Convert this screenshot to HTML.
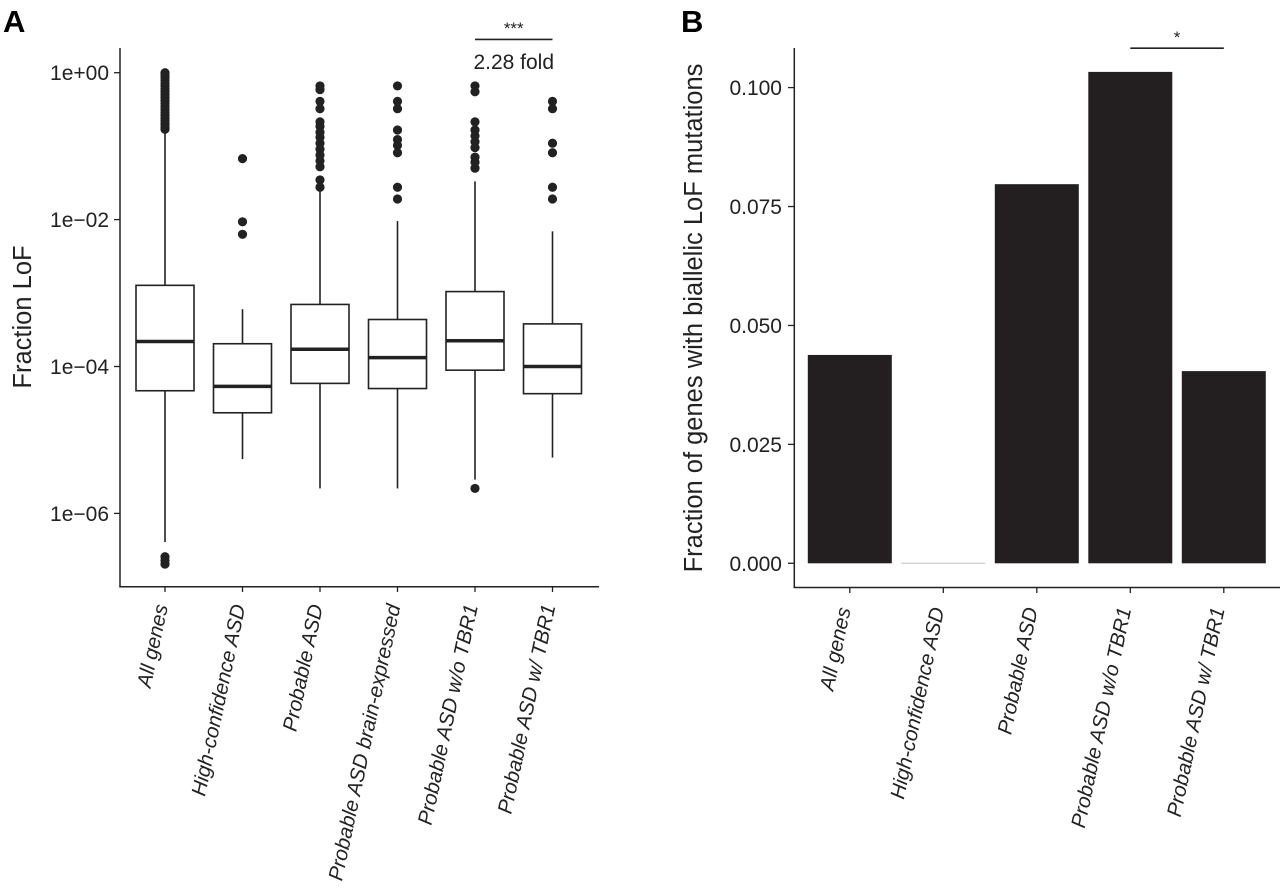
<!DOCTYPE html>
<html><head><meta charset="utf-8"><style>
html,body{margin:0;padding:0;background:#fff;}
svg{display:block;font-family:"Liberation Sans",Arial,sans-serif;}
</style></head><body>
<svg id="fig" width="1280" height="894" viewBox="0 0 1280 894" xmlns="http://www.w3.org/2000/svg">
<g id="pa"></g>
<g id="pb"></g>
</svg>
<script>
// ---------- Panel A data (log10 values) ----------
const catsA = ["All genes","High-confidence ASD","Probable ASD","Probable ASD brain-expressed","Probable ASD w/o TBR1","Probable ASD w/ TBR1"];
const q1A = [-4.33,-4.63,-4.23,-4.30,-4.05,-4.37];
const medA = [-3.66,-4.27,-3.765,-3.88,-3.65,-4.00];
const q3A = [-2.895,-3.69,-3.155,-3.36,-2.98,-3.42];
const whiskLoA = [-6.39,-5.26,-5.66,-5.66,-5.54,-5.24];
const whiskHiA = [-0.78,-3.22,-1.56,-2.02,-1.48,-2.16];
const outliersA = [
  [0,-0.03,-0.06,-0.1,-0.14,-0.18,-0.22,-0.26,-0.3,-0.34,-0.38,-0.42,-0.46,-0.5,-0.54,-0.58,-0.62,-0.66,-0.7,-0.74,-0.77,-6.59,-6.64,-6.69],
  [-1.17,-2.03,-2.2],
  [-0.18,-0.23,-0.39,-0.49,-0.67,-0.73,-0.81,-0.88,-0.96,-1.04,-1.12,-1.2,-1.28,-1.46,-1.56],
  [-0.18,-0.39,-0.49,-0.78,-0.91,-0.99,-1.09,-1.56,-1.72],
  [-0.18,-0.26,-0.67,-0.78,-0.86,-0.94,-1.02,-1.15,-1.22,-1.3,-5.66],
  [-0.39,-0.49,-0.96,-1.09,-1.56,-1.72]
];
const ticksA = [0,-2,-4,-6];
const tickLabelsA = ["1e+00","1e\u221202","1e\u221204","1e\u221206"];
// ---------- Panel B data ----------
const catsB = ["All genes","High-confidence ASD","Probable ASD","Probable ASD w/o TBR1","Probable ASD w/ TBR1"];
const valsB = [0.0438,0,0.0797,0.1033,0.0404];
const ticksB = [0,0.025,0.05,0.075,0.1];
const tickLabelsB = ["0.000","0.025","0.050","0.075","0.100"];

const NS="http://www.w3.org/2000/svg";
function mk(parent,tag,attrs,text){const e=document.createElementNS(NS,tag);for(const k in attrs)e.setAttribute(k,attrs[k]);if(text!==undefined)e.textContent=text;parent.appendChild(e);return e;}

// ---------- Panel A ----------
const pa=document.getElementById('pa');
const yA=v=>72.7-(v)*73.45;
const xA=i=>165+i*77.5;
let e;
e=mk(pa,'text',{x:3,y:32,'font-size':31,'font-weight':'bold'},'A');


e=mk(pa,'line',{x1:120,y1:48,x2:120,y2:587,stroke:'#222','stroke-width':1.5});


e=mk(pa,'line',{x1:119.3,y1:586.7,x2:599,y2:586.7,stroke:'#222','stroke-width':1.5});


ticksA.forEach((t,i)=>{
  e=mk(pa,'line',{x1:114,y1:yA(t),x2:120,y2:yA(t),stroke:'#222','stroke-width':1.3});
  
  
  e=mk(pa,'text',{x:109,y:yA(t)+7.5,'font-size':21,'text-anchor':'end',fill:'#222'},tickLabelsA[i]);
  
  
});
e=mk(pa,'text',{x:0,y:0,'font-size':25.5,'text-anchor':'middle',fill:'#222',transform:'translate(31,317) rotate(-90)'},'Fraction LoF');


catsA.forEach((c,i)=>{
  const x=xA(i),w=58;
  const g=mk(pa,'g',{});
  
  
  mk(g,'line',{x1:x,y1:yA(q3A[i]),x2:x,y2:yA(whiskHiA[i]),stroke:'#222','stroke-width':1.6});
  mk(g,'line',{x1:x,y1:yA(q1A[i]),x2:x,y2:yA(whiskLoA[i]),stroke:'#222','stroke-width':1.6});
  e=mk(g,'rect',{x:x-w/2,y:yA(q3A[i]),width:w,height:yA(q1A[i])-yA(q3A[i]),fill:'#fff',stroke:'#222','stroke-width':1.6});
  
  
  e=mk(g,'line',{x1:x-w/2,y1:yA(medA[i]),x2:x+w/2,y2:yA(medA[i]),stroke:'#222','stroke-width':3.5});
  
  
  outliersA[i].forEach(o=>{
    e=mk(g,'circle',{cx:x,cy:yA(o),r:4.6,fill:'#222'});
    
    
  });
  e=mk(pa,'line',{x1:x,y1:586.7,x2:x,y2:592,stroke:'#222','stroke-width':1.3});
  
  
  e=mk(pa,'text',{x:0,y:0,'font-size':20.5,'font-style':'italic','text-anchor':'end',fill:'#222',transform:`translate(${x+3},606) rotate(-78)`},c);
  
  
});
e=mk(pa,'line',{x1:xA(4),y1:39.4,x2:xA(5),y2:39.4,stroke:'#222','stroke-width':1.6});


e=mk(pa,'text',{x:(xA(4)+xA(5))/2,y:34,'font-size':17,'text-anchor':'middle',fill:'#222'},'***');


e=mk(pa,'text',{x:(xA(4)+xA(5))/2,y:69,'font-size':21,'text-anchor':'middle',fill:'#222'},'2.28 fold');



// ---------- Panel B ----------
const pb=document.getElementById('pb');
const yB=v=>563.3-v*4757;
const xB=i=>849.8+i*93.5;
e=mk(pb,'text',{x:681,y:32,'font-size':31,'font-weight':'bold'},'B');


e=mk(pb,'line',{x1:794.3,y1:48,x2:794.3,y2:588,stroke:'#222','stroke-width':1.5});


e=mk(pb,'line',{x1:793.6,y1:587.5,x2:1280,y2:587.5,stroke:'#222','stroke-width':1.5});


ticksB.forEach((t,i)=>{
  e=mk(pb,'line',{x1:788,y1:yB(t),x2:794.3,y2:yB(t),stroke:'#222','stroke-width':1.3});
  
  
  e=mk(pb,'text',{x:782,y:yB(t)+7.5,'font-size':21,'text-anchor':'end',fill:'#222'},tickLabelsB[i]);
  
  
});
e=mk(pb,'text',{x:0,y:0,'font-size':25.5,'text-anchor':'middle',fill:'#222',transform:'translate(702,318) rotate(-90)'},'Fraction of genes with biallelic LoF mutations');


catsB.forEach((c,i)=>{
  const x=xB(i),w=84;
  if(valsB[i]>0){
    e=mk(pb,'rect',{x:x-w/2,y:yB(valsB[i]),width:w,height:yB(0)-yB(valsB[i]),fill:'#231f20'});
  } else {
    e=mk(pb,'rect',{x:x-w/2,y:yB(0)-0.6,width:w,height:1.2,fill:'#ccc'});
  }
  
  
  e=mk(pb,'line',{x1:x,y1:587.5,x2:x,y2:593,stroke:'#222','stroke-width':1.3});
  
  
  e=mk(pb,'text',{x:0,y:0,'font-size':20.5,'font-style':'italic','text-anchor':'end',fill:'#222',transform:`translate(${x+1},609) rotate(-78)`},c);
  
  
});
e=mk(pb,'line',{x1:xB(3),y1:48.2,x2:xB(4),y2:48.2,stroke:'#222','stroke-width':1.6});


e=mk(pb,'text',{x:(xB(3)+xB(4))/2,y:43,'font-size':17,'text-anchor':'middle',fill:'#222'},'*');


</script>
</body></html>
